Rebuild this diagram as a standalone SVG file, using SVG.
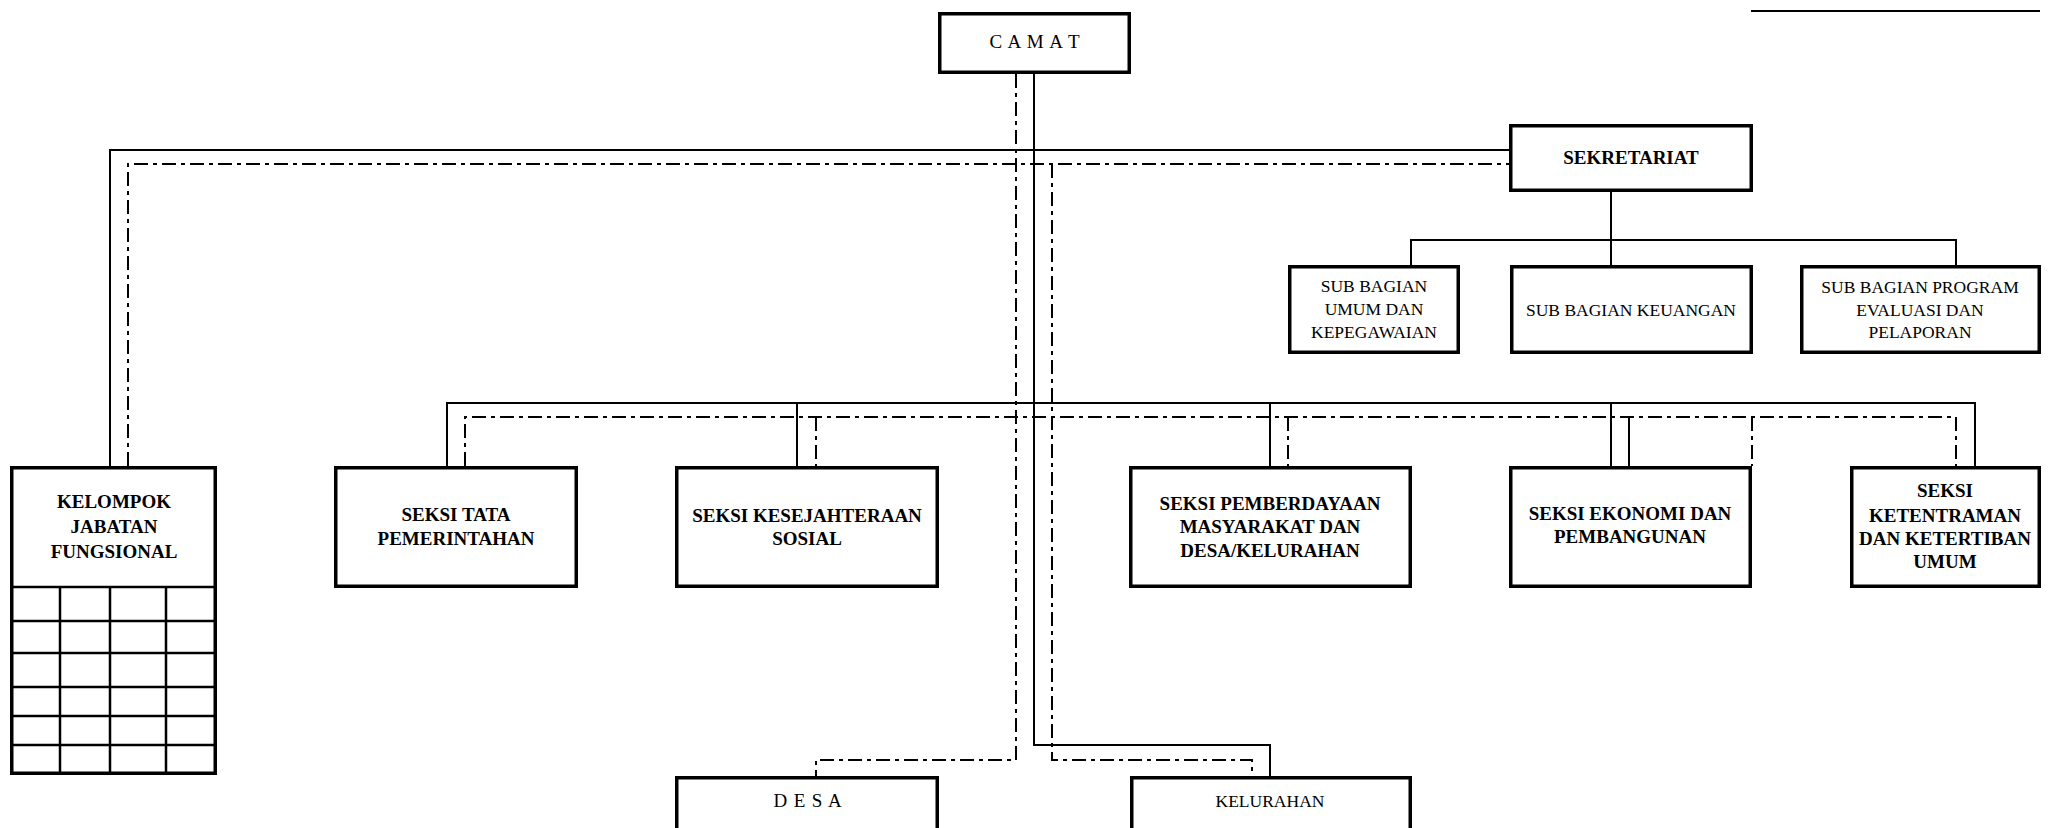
<svg xmlns="http://www.w3.org/2000/svg" width="2049" height="828" viewBox="0 0 2049 828">
<style>
.box{fill:#fff;stroke:#000;stroke-width:3.5}
.grid{fill:none;stroke:#000;stroke-width:2.5}
.solid{fill:none;stroke:#000;stroke-width:2}
.dash{fill:none;stroke:#000;stroke-width:2;stroke-dasharray:14 5 4 5}
.b{font-family:"Liberation Serif","Times New Roman",serif;font-weight:bold;font-size:19px;text-anchor:middle;fill:#000}
.r{font-family:"Liberation Serif","Times New Roman",serif;font-size:17.5px;text-anchor:middle;fill:#000}
.sp{font-size:19px;letter-spacing:0.9px}
</style>
<rect width="2049" height="828" fill="#fff"/>
<g id="connectors">
<path class="solid" d="M1751 11 H2040"/>
<path class="solid" d="M1034 74 V745 H1270 V776"/>
<path class="solid" d="M110 466 V150 H1509"/>
<path class="solid" d="M447 466 V403 H1975 V466"/>
<path class="solid" d="M797 403 V466 M1270 403 V466 M1611 403 V466 M1629 417 V466"/>
<path class="solid" d="M1611 192 V265 M1411 265 V240 H1956 V265"/>
<path class="dash" d="M1016 74 V760 H816 V776"/>
<path class="dash" d="M128 466 V164 H1509"/>
<path class="dash" d="M1052 164 V760 H1252 V776"/>
<path class="dash" d="M465 466 V417 H1956 V466"/>
<path class="dash" d="M816 417 V466 M1288 417 V466 M1752 417 V466"/>
</g>
<g id="camat">
<rect class="box" x="939.75" y="13.75" width="189.5" height="58.5"/>
<text class="r sp" x="1035" y="48">C A M A T</text>
</g>
<g id="sekretariat">
<rect class="box" x="1510.75" y="125.75" width="240.5" height="64.5"/>
<text class="b" x="1631" y="164">SEKRETARIAT</text>
</g>
<g id="sub-umum">
<rect class="box" x="1289.75" y="266.75" width="168.5" height="85.5"/>
<text class="r" x="1374" y="292">SUB BAGIAN</text>
<text class="r" x="1374" y="315">UMUM DAN</text>
<text class="r" x="1374" y="338">KEPEGAWAIAN</text>
</g>
<g id="sub-keuangan">
<rect class="box" x="1511.75" y="266.75" width="239.5" height="85.5"/>
<text class="r" x="1631" y="316">SUB BAGIAN KEUANGAN</text>
</g>
<g id="sub-program">
<rect class="box" x="1801.75" y="266.75" width="237.5" height="85.5"/>
<text class="r" x="1920" y="293">SUB BAGIAN PROGRAM</text>
<text class="r" x="1920" y="316">EVALUASI DAN</text>
<text class="r" x="1920" y="338">PELAPORAN</text>
</g>
<g id="kelompok">
<rect class="box" x="11.75" y="467.75" width="203.5" height="305.5"/>
<path class="grid" d="M12 587 H215 M12 621 H215 M12 653 H215 M12 687 H215 M12 716 H215 M12 745 H215 M60 587 V773 M110 587 V773 M166 587 V773"/>
<text class="b" x="114" y="508">KELOMPOK</text>
<text class="b" x="114" y="533">JABATAN</text>
<text class="b" x="114" y="558">FUNGSIONAL</text>
</g>
<g id="seksi-tata">
<rect class="box" x="335.75" y="467.75" width="240.5" height="118.5"/>
<text class="b" x="456" y="521">SEKSI TATA</text>
<text class="b" x="456" y="545">PEMERINTAHAN</text>
</g>
<g id="seksi-kesejahteraan">
<rect class="box" x="676.75" y="467.75" width="260.5" height="118.5"/>
<text class="b" x="807" y="522">SEKSI KESEJAHTERAAN</text>
<text class="b" x="807" y="545">SOSIAL</text>
</g>
<g id="seksi-pemberdayaan">
<rect class="box" x="1130.75" y="467.75" width="279.5" height="118.5"/>
<text class="b" x="1270" y="510">SEKSI PEMBERDAYAAN</text>
<text class="b" x="1270" y="533">MASYARAKAT DAN</text>
<text class="b" x="1270" y="557">DESA/KELURAHAN</text>
</g>
<g id="seksi-ekonomi">
<rect class="box" x="1510.75" y="467.75" width="239.5" height="118.5"/>
<text class="b" x="1630" y="520">SEKSI EKONOMI DAN</text>
<text class="b" x="1630" y="543">PEMBANGUNAN</text>
</g>
<g id="seksi-ketentraman">
<rect class="box" x="1851.75" y="467.75" width="187.5" height="118.5"/>
<text class="b" x="1945" y="497">SEKSI</text>
<text class="b" x="1945" y="522">KETENTRAMAN</text>
<text class="b" x="1945" y="545">DAN KETERTIBAN</text>
<text class="b" x="1945" y="568">UMUM</text>
</g>
<g id="desa">
<rect class="box" x="676.75" y="777.75" width="260.5" height="80"/>
<text class="r sp" x="808" y="807">D E S A</text>
</g>
<g id="kelurahan">
<rect class="box" x="1131.75" y="777.75" width="278.5" height="80"/>
<text class="r" x="1270" y="807">KELURAHAN</text>
</g>
</svg>
